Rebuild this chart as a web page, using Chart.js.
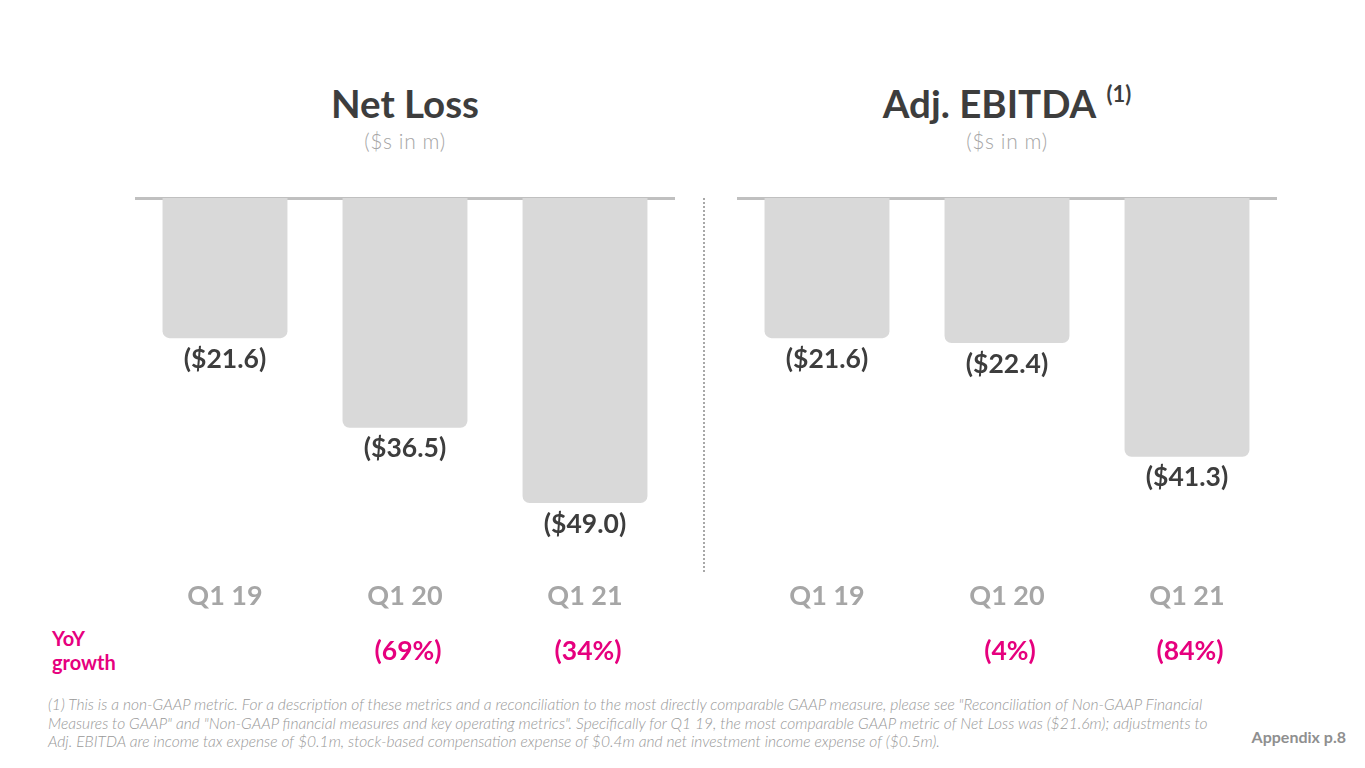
<!DOCTYPE html>
<html>
<head>
<meta charset="utf-8">
<script src="https://cdn.jsdelivr.net/npm/chart.js@4"></script>
<style>
  html, body { margin: 0; padding: 0; background: #ffffff; }
  body { width: 1365px; height: 768px; position: relative; overflow: hidden; font-family: Lato, "Noto Sans", sans-serif; }
  .box { position: absolute; }
  .title { position: absolute; width: 540px; text-align: center; font-weight: 700; font-size: 38.5px; line-height: 1; color: #3d3d3d; }
  .title sup { font-size: 22px; vertical-align: 0; position: relative; top: -16px; margin-left: 2px; }
  .sub { position: absolute; width: 540px; text-align: center; font-size: 21px; letter-spacing: 0.6px; line-height: 1; color: #a6a6a6; font-weight: 300; }
  .divider { position: absolute; left: 703px; top: 198px; height: 374px; border-left: 2px dotted #a8a8a8; }
  .yoy { position: absolute; left: 52px; top: 626px; font-size: 20px; line-height: 24px; font-weight: 700; color: #e6007e; }
  .foot { position: absolute; left: 48px; top: 695px; white-space: nowrap; font-size: 15.6px; line-height: 18.5px; font-style: italic; font-weight: 300; color: #999999; }
  .page { position: absolute; right: 19px; top: 727px; font-size: 16px; font-weight: 700; color: #8f8f8f; }
</style>
</head>
<body>
<div class="title" style="left:135px; top:84px;">Net Loss</div>
<div class="sub" style="left:135px; top:130px;">($s in m)</div>
<div class="title" style="left:737px; top:84px;">Adj. EBITDA <sup>(1)</sup></div>
<div class="sub" style="left:737px; top:130px;">($s in m)</div>

<div class="box" style="left:135px; top:180px; width:540px; height:500px;"><canvas id="c1"></canvas></div>
<div class="box" style="left:737px; top:180px; width:540px; height:500px;"><canvas id="c2"></canvas></div>
<div class="divider"></div>

<div class="yoy">YoY<br>growth</div>
<div class="foot">(1) This is a non-GAAP metric. For a description of these metrics and a reconciliation to the most directly comparable GAAP measure, please see "Reconciliation of Non-GAAP Financial<br>Measures to GAAP" and "Non-GAAP financial measures and key operating metrics". Specifically for Q1 19, the most comparable GAAP metric of Net Loss was ($21.6m); adjustments to<br>Adj. EBITDA are income tax expense of $0.1m, stock-based compensation expense of $0.4m and net investment income expense of ($0.5m).</div>
<div class="page">Appendix p.8</div>

<script>
const categories = ['Q1 19', 'Q1 20', 'Q1 21'];
const netLoss = [-21.6, -36.5, -49.0];
const adjEbitda = [-21.6, -22.4, -41.3];
const netLossGrowth = ['', '(69%)', '(34%)'];
const adjEbitdaGrowth = ['', '(4%)', '(84%)'];
const yMax = 1.7;
const yMin = -60.4;

const barColor = '#d9d9d9';
const axisColor = '#c0c0c0';
const labelColor = '#3d3d3d';
const tickColor = '#a6a6a6';
const growthColor = '#e6007e';

const valueLabels = {
  id: 'valueLabels',
  afterDatasetsDraw(chart) {
    const ctx = chart.ctx;
    const meta = chart.getDatasetMeta(0);
    const data = chart.data.datasets[0].data;
    ctx.save();
    ctx.font = '700 26.5px Lato';
    ctx.fillStyle = labelColor;
    ctx.textAlign = 'center';
    ctx.textBaseline = 'middle';
    meta.data.forEach((bar, i) => {
      const v = Math.abs(data[i]).toFixed(1);
      ctx.fillText('($' + v + ')', bar.x, bar.y + 21);
    });
    ctx.restore();
  }
};

const growthRow = {
  id: 'growthRow',
  afterDraw(chart, args, opts) {
    const ctx = chart.ctx;
    const xs = chart.scales.x;
    ctx.save();
    ctx.font = '700 26.5px Lato';
    ctx.fillStyle = growthColor;
    ctx.textAlign = 'center';
    ctx.textBaseline = 'middle';
    opts.values.forEach((t, i) => {
      if (t) ctx.fillText(t, xs.getPixelForValue(i) + 3, xs.bottom + 31);
    });
    ctx.restore();
  }
};

function makeChart(id, values, growth) {
  return new Chart(document.getElementById(id), {
    type: 'bar',
    data: {
      labels: categories,
      datasets: [{
        data: values,
        base: yMax,
        backgroundColor: barColor,
        borderRadius: 7,
        borderSkipped: 'start',
        categoryPercentage: 1,
        barPercentage: 0.694
      }]
    },
    options: {
      responsive: true,
      maintainAspectRatio: false,
      animation: false,
      layout: { padding: { top: 18, bottom: 60, left: 0, right: 0 } },
      plugins: { legend: { display: false }, tooltip: { enabled: false }, growthRow: { values: growth } },
      scales: {
        x: {
          grid: { display: false, drawTicks: false },
          border: { display: false },
          ticks: { color: tickColor, padding: 8, font: { family: 'Lato', size: 27, weight: '700' } }
        },
        x2: {
          type: 'category',
          position: 'top',
          z: 1,
          grid: { display: false, drawTicks: false },
          border: { display: true, color: axisColor, width: 3 },
          ticks: { display: false }
        },
        y: { display: false, min: yMin, max: yMax }
      }
    },
    plugins: [valueLabels, growthRow]
  });
}

makeChart('c1', netLoss, netLossGrowth);
makeChart('c2', adjEbitda, adjEbitdaGrowth);
</script>
</body>
</html>
